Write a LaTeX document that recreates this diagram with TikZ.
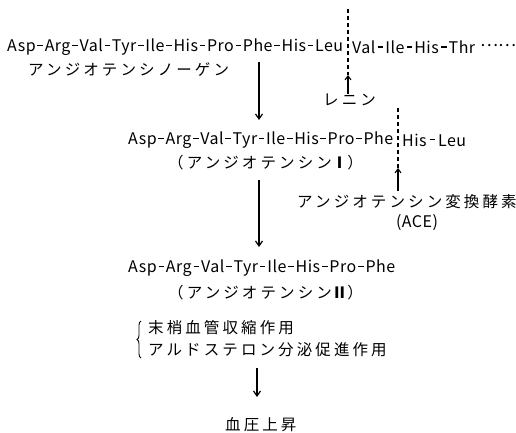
\documentclass[tikz,border=0pt]{standalone}
\usepackage{fontspec}
\setmainfont{Noto Sans CJK JP}
\newfontfamily\jp[LetterSpace=20]{Noto Sans CJK JP}
\newfontfamily\lat[LetterSpace=3]{Noto Sans CJK JP}
\usetikzlibrary{arrows.meta,decorations.pathreplacing}
\newcommand{\hy}{\hspace{1pt plus 1fil}\rule[0.36em]{5.5pt}{1.1pt}\hspace{1pt plus 1fil}}
\newcommand{\seqbox}[2]{\makebox[#1][s]{#2}}
\begin{document}
\begin{tikzpicture}[x=1pt,y=-1pt,
  pep/.style={anchor=west,inner sep=0pt,font=\lat\fontsize{16}{17}\selectfont},
  jtxt/.style={anchor=west,inner sep=0pt,font=\jp\fontsize{15.5}{16}\selectfont},
  arr/.style={line width=1.2pt,-{Straight Barb[length=5pt,width=7pt]}},
  cut/.style={line width=1.1pt,dash pattern=on 4pt off 3pt}]
\useasboundingbox (0,0) rectangle (516,433);
% row 1
\node[pep] (r1a) at (7,47) {\seqbox{336pt}{Asp\hy Arg\hy Val\hy Tyr\hy Ile\hy His\hy Pro\hy Phe\hy His\hy Leu}};
\node[pep] (r1b) at (352,47) {\seqbox{123pt}{Val\hy Ile\hy His\hy Thr}};
\node[anchor=west,inner sep=0pt,font=\fontsize{17}{17}\selectfont] (dots) at (480,46) {⋯⋯};
\node[jtxt] (aog) at (28,70) {アンジオテンシノーゲン};
\node[jtxt] (renin) at (323,100) {レニン};
\coordinate (c1top) at (348,9);
\coordinate (c1tip) at (348,75);
\draw[cut] (c1top) -- (c1tip);
\draw[line width=1.1pt,-{Straight Barb[length=4pt,width=6pt]}] (renin.north -| c1tip) -- (c1tip);
% arrow 1
\coordinate (a1s) at (259,62);
\coordinate (a1e) at (259,120);
\draw[arr] (a1s) -- (a1e);
% row 2
\node[pep] (r2a) at (128,140) {\seqbox{265pt}{Asp\hy Arg\hy Val\hy Tyr\hy Ile\hy His\hy Pro\hy Phe}};
\node[pep] (r2b) at (402,140) {\seqbox{64pt}{His\hy Leu}};
\node[jtxt] (ang1) at (168,163) {（アンジオテンシン{\bfseries Ⅰ}）};
\node[jtxt] (ace) at (297,202) {アンジオテンシン変換酵素};
\node[pep,anchor=center] (acel) at (417,223) {(ACE)};
\coordinate (c2top) at (398,108);
\coordinate (c2tip) at (398,168);
\coordinate (c2bot) at (398,191);
\draw[cut] (c2top) -- (c2tip);
\draw[line width=1.1pt,-{Straight Barb[length=4pt,width=6pt]}] (c2bot) -- (c2tip);
% arrow 2
\coordinate (a2s) at (259,180);
\coordinate (a2e) at (259,247);
\draw[arr] (a2s) -- (a2e);
% row 3
\node[pep] (r3) at (128,268) {\seqbox{267pt}{Asp\hy Arg\hy Val\hy Tyr\hy Ile\hy His\hy Pro\hy Phe}};
\node[jtxt] (ang2) at (168,293) {（アンジオテンシン{\bfseries Ⅱ}）};
% effects
\node[jtxt] (e1) at (148,328) {末梢血管収縮作用};
\node[jtxt] (e2) at (148,350) {アルドステロン分泌促進作用};
\coordinate (bb) at (141,358);
\coordinate (bt) at (141,321);
\draw[line width=0.9pt,decorate,decoration={brace,amplitude=4pt}] (bb) -- (bt);
% arrow 3
\coordinate (a3s) at (257,368);
\coordinate (a3e) at (257,397);
\draw[arr] (a3s) -- (a3e);
\node[jtxt] (bp) at (225,425) {血圧上昇};
\end{tikzpicture}
\end{document}
